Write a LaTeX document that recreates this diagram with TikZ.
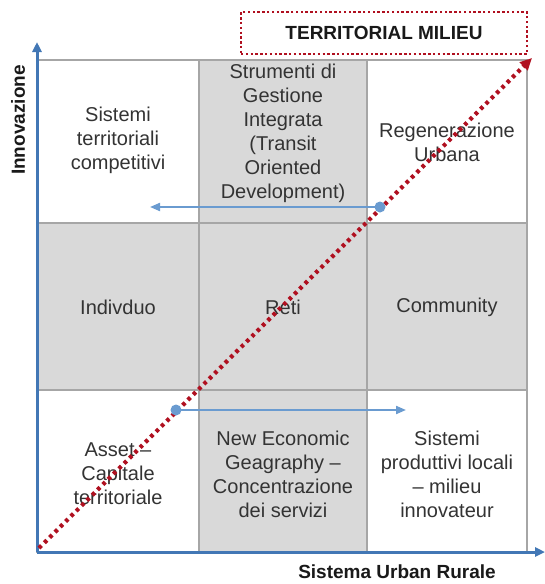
\documentclass[tikz,border=0pt]{standalone}
\usepackage{fontspec}
\setmainfont{Liberation Sans}
\usetikzlibrary{arrows.meta}
\definecolor{cellgray}{HTML}{D9D9D9}
\definecolor{gridgray}{HTML}{A6A6A6}
\definecolor{axisblue}{HTML}{4277B5}
\definecolor{arrblue}{HTML}{6A9BD0}
\definecolor{milred}{HTML}{B01020}
\definecolor{txt}{HTML}{333333}
\begin{document}
\begin{tikzpicture}[x=1pt,y=-1pt,
  celltext/.style={text=txt, align=center, font=\fontsize{20}{24}\selectfont, inner sep=0},
  axislabel/.style={text=black!90, font=\fontsize{19}{22}\selectfont\bfseries, inner sep=0},
  gridline/.style={draw=gridgray, line width=2},
  axisline/.style={draw=axisblue, line width=3, -{Triangle[length=10,width=9]}},
  redline/.style={draw=milred, line width=4.2, dash pattern=on 3.5pt off 4pt},
  bluearrow/.style={draw=arrblue, line width=2, -{Triangle[length=10,width=8]}}]
\useasboundingbox (0,0) rectangle (545,584);
% cells
\fill[cellgray] (199,60) rectangle (367,552);
\fill[cellgray] (37,223) rectangle (527,390);
\draw[gridline] (37,60) rectangle (527,552);
\draw[gridline] (199,60) -- (199,552);
\draw[gridline] (367,60) -- (367,552);
\draw[gridline] (37,223) -- (527,223);
\draw[gridline] (37,390) -- (527,390);
% axes
\coordinate (O) at (37,552);
\coordinate (Ytop) at (37,42);
\coordinate (Xend) at (545,552);
\draw[axisline] (O) -- (Ytop);
\draw[axisline] (O) -- (Xend);
\node[axislabel, rotate=90] (ylab) at (18,120) {Innovazione};
\node[axislabel] (xlab) at (397,572) {Sistema Urban Rurale};
% title box
\node[draw=milred, line width=2.8, dash pattern=on 2.4pt off 2.4pt,
      minimum width=286, minimum height=42, inner sep=0,
      font=\fontsize{19}{22}\selectfont\bfseries, text=black!90] (title) at (384,33) {TERRITORIAL MILIEU};
% cell texts
\node[celltext] (c11) at (118,140) {Sistemi\\territoriali\\competitivi};
\node[celltext] (c12) at (283,133) {Strumenti di\\Gestione\\Integrata\\(Transit\\Oriented\\Development)};
\node[celltext] (c13) at (447,142) {Regenerazione\\Urbana};
\node[celltext] (c21) at (118,307) {Indivduo};
\node[celltext] (c22) at (283,307) {Reti};
\node[celltext] (c23) at (447,307) {Community};
\node[celltext] (c31) at (118,474) {Asset –\\Capitale\\territoriale};
\node[celltext] (c32) at (283,474) {New Economic\\Geagraphy –\\Concentrazione\\dei servizi};
\node[celltext] (c33) at (447,474) {Sistemi\\produttivi locali\\– milieu\\innovateur};
% red diagonal
\coordinate (rs) at (39,548);
\coordinate (re) at (532,58);
\draw[redline, -{Triangle[length=12,width=11,fill=milred]}] (rs) -- (re);
% blue arrows
\coordinate (dotA) at (380,207);
\coordinate (tipA) at (150,207);
\coordinate (dotB) at (176,410);
\coordinate (tipB) at (406,410);
\draw[bluearrow] (dotA) -- (tipA);
\draw[bluearrow] (dotB) -- (tipB);
\fill[arrblue] (dotA) circle (5.5);
\fill[arrblue] (dotB) circle (5.5);
\end{tikzpicture}
\end{document}
